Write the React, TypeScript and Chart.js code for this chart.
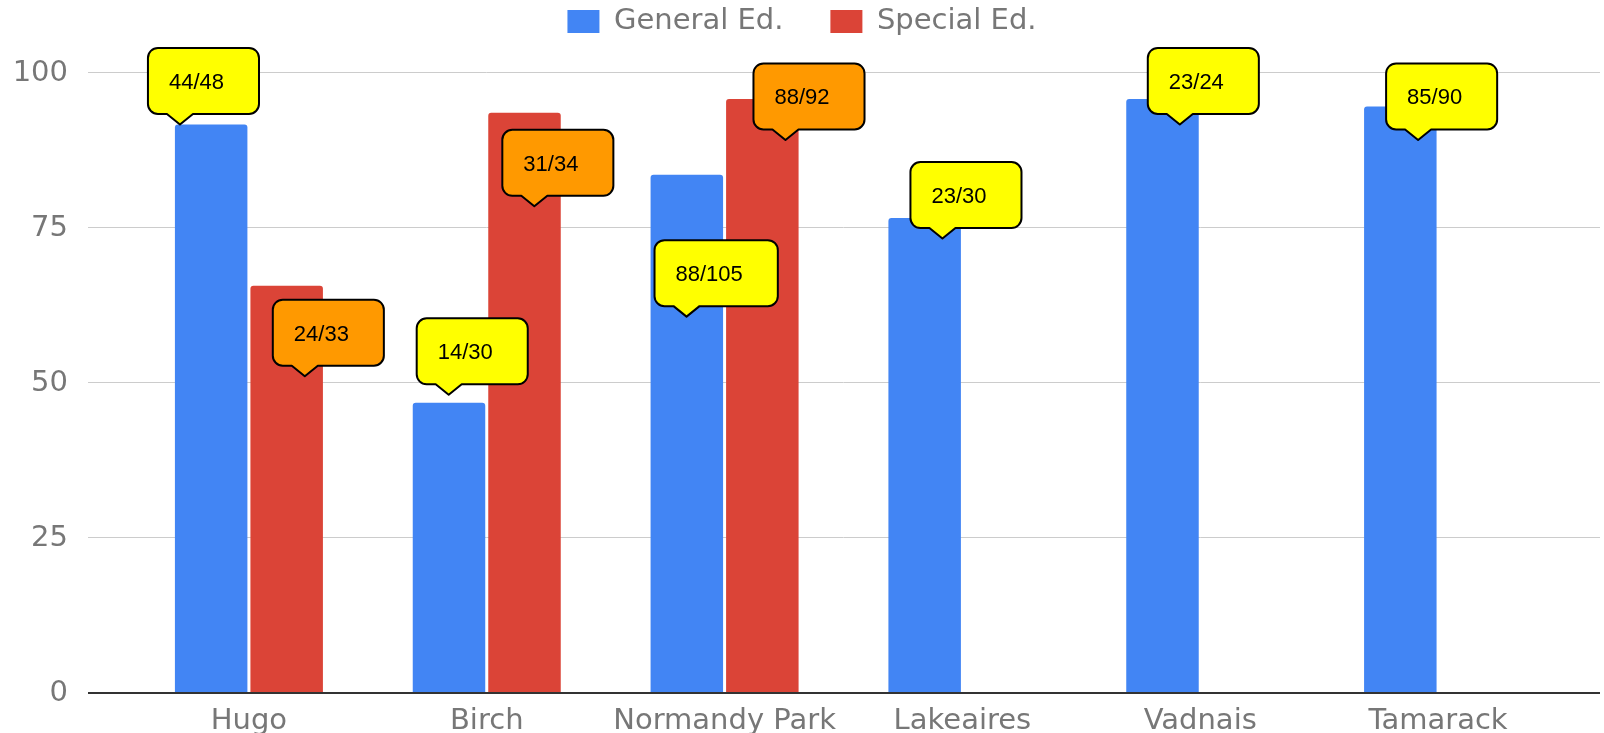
import React, { useEffect, useRef } from 'react';
import { Chart, registerables } from 'chart.js';

Chart.register(...registerables);

// ---- data ----
const categories = ['Hugo', 'Birch', 'Normandy Park', 'Lakeaires', 'Vadnais', 'Tamarack'];
const seriesNames = ['General Ed.', 'Special Ed.'];
const generalEd = [91.7, 46.8, 83.6, 76.6, 95.8, 94.6];
const specialEd = [65.7, 93.6, 95.8, null, null, null];
const yTicks = [0, 25, 50, 75, 100];

// callout annotations: text, anchor (category position, value), series colour
const calloutTexts = ['44/48', '24/33', '14/30', '31/34', '88/105', '88/92', '23/30', '23/24', '85/90'];
const calloutCategoryPos = [-0.29, 0.235, 0.84, 1.2, 1.84, 2.256, 2.916, 3.914, 4.916];
const calloutValues = [91.7, 51.1, 48.1, 78.5, 60.7, 89.2, 73.3, 91.7, 89.2];
const calloutSeries = [0, 1, 0, 1, 0, 1, 0, 0, 0];

// ---- styles ----
const seriesColors = ['#4285f4', '#db4437'];
const calloutColors = ['#ffff00', '#ff9900'];
const axisTextColor = '#777777';
const gridColor = '#cccccc';
const baseColor = '#333333';
const labelFont = { family: '"DejaVu Sans", sans-serif', size: 29 };

const calloutPlugin = {
  id: 'callouts',
  afterDatasetsDraw(chart: any) {
    const { ctx, scales } = chart;
    const xs = scales.x;
    const ys = scales.y;
    ctx.save();
    ctx.font = '22px "Liberation Sans", Arial, sans-serif';
    calloutTexts.forEach((text, i) => {
      const tx = xs.getPixelForValue(calloutCategoryPos[i]);
      const ty = ys.getPixelForValue(calloutValues[i]);
      const tw = ctx.measureText(text).width;
      const w = tw + 56;
      const h = 66;
      const ph = 10.5;
      const pw = 13;
      const r = 10;
      const left = tx - 32;
      const right = left + w;
      const bottom = ty - ph;
      const top = bottom - h;
      ctx.beginPath();
      ctx.moveTo(left + r, top);
      ctx.lineTo(right - r, top);
      ctx.arcTo(right, top, right, top + r, r);
      ctx.lineTo(right, bottom - r);
      ctx.arcTo(right, bottom, right - r, bottom, r);
      ctx.lineTo(tx + pw, bottom);
      ctx.lineTo(tx, ty);
      ctx.lineTo(tx - pw, bottom);
      ctx.lineTo(left + r, bottom);
      ctx.arcTo(left, bottom, left, bottom - r, r);
      ctx.lineTo(left, top + r);
      ctx.arcTo(left, top, left + r, top, r);
      ctx.closePath();
      ctx.fillStyle = calloutColors[calloutSeries[i]];
      ctx.fill();
      ctx.lineWidth = 2;
      ctx.lineJoin = 'round';
      ctx.strokeStyle = '#000000';
      ctx.stroke();
      ctx.fillStyle = '#000000';
      ctx.textAlign = 'left';
      ctx.textBaseline = 'middle';
      ctx.fillText(text, left + 21, top + h / 2 + 2);
    });
    ctx.restore();
  },
};

const gridColorFn = (c: any) => (c.tick && c.tick.value === 0 ? baseColor : gridColor);
const gridWidthFn = (c: any) => (c.tick && c.tick.value === 0 ? 2 : 1);
const setTicks = (s: any) => {
  s.ticks = yTicks.map((v) => ({ value: v }));
};

export default function App() {
  const ref = useRef<HTMLCanvasElement>(null);
  useEffect(() => {
    document.body.style.margin = '0';
    const chart = new Chart(ref.current as HTMLCanvasElement, {
      type: 'bar',
      data: {
        labels: categories,
        datasets: [
          {
            label: seriesNames[0],
            data: generalEd,
            backgroundColor: seriesColors[0],
            borderWidth: 0,
            borderRadius: 3,
            categoryPercentage: 0.635,
            barPercentage: 0.96,
          },
          {
            label: seriesNames[1],
            data: specialEd,
            backgroundColor: seriesColors[1],
            borderWidth: 0,
            borderRadius: 3,
            categoryPercentage: 0.635,
            barPercentage: 0.96,
          },
        ],
      },
      options: {
        responsive: false,
        animation: false,
        layout: { padding: { top: -40, left: 0, right: 0, bottom: 0 } },
        plugins: {
          legend: {
            position: 'top',
            labels: {
              boxWidth: 32,
              boxHeight: 23,
              padding: 47,
              color: axisTextColor,
              font: labelFont,
            },
          },
          tooltip: { enabled: false },
        },
        scales: {
          x: {
            grid: { display: false },
            border: { display: false },
            ticks: { padding: 3, color: axisTextColor, font: labelFont, maxRotation: 0, autoSkip: false },
            afterFit: (s: any) => {
              s.height = 40;
            },
          },
          y: {
            position: 'left',
            min: 0,
            max: 104.35,
            afterBuildTicks: setTicks,
            ticks: { padding: 20, color: axisTextColor, font: labelFont },
            grid: { color: gridColorFn, lineWidth: gridWidthFn, drawTicks: true, tickLength: 42 },
            border: { display: false },
            afterFit: (s: any) => {
              s.width = 130;
            },
          },
          y2: {
            position: 'right',
            min: 0,
            max: 104.35,
            afterBuildTicks: setTicks,
            ticks: { display: false },
            grid: { color: gridColorFn, lineWidth: gridWidthFn, drawOnChartArea: false, drawTicks: true, tickLength: 43 },
            border: { display: false },
            afterFit: (s: any) => {
              s.width = 47;
            },
          },
        },
      } as any,
      plugins: [calloutPlugin],
    });
    return () => chart.destroy();
  }, []);
  return (
    <div style={{ width: 1604, height: 733 }}>
      <canvas ref={ref} width={1604} height={733} style={{ display: 'block' }} />
    </div>
  );
}
